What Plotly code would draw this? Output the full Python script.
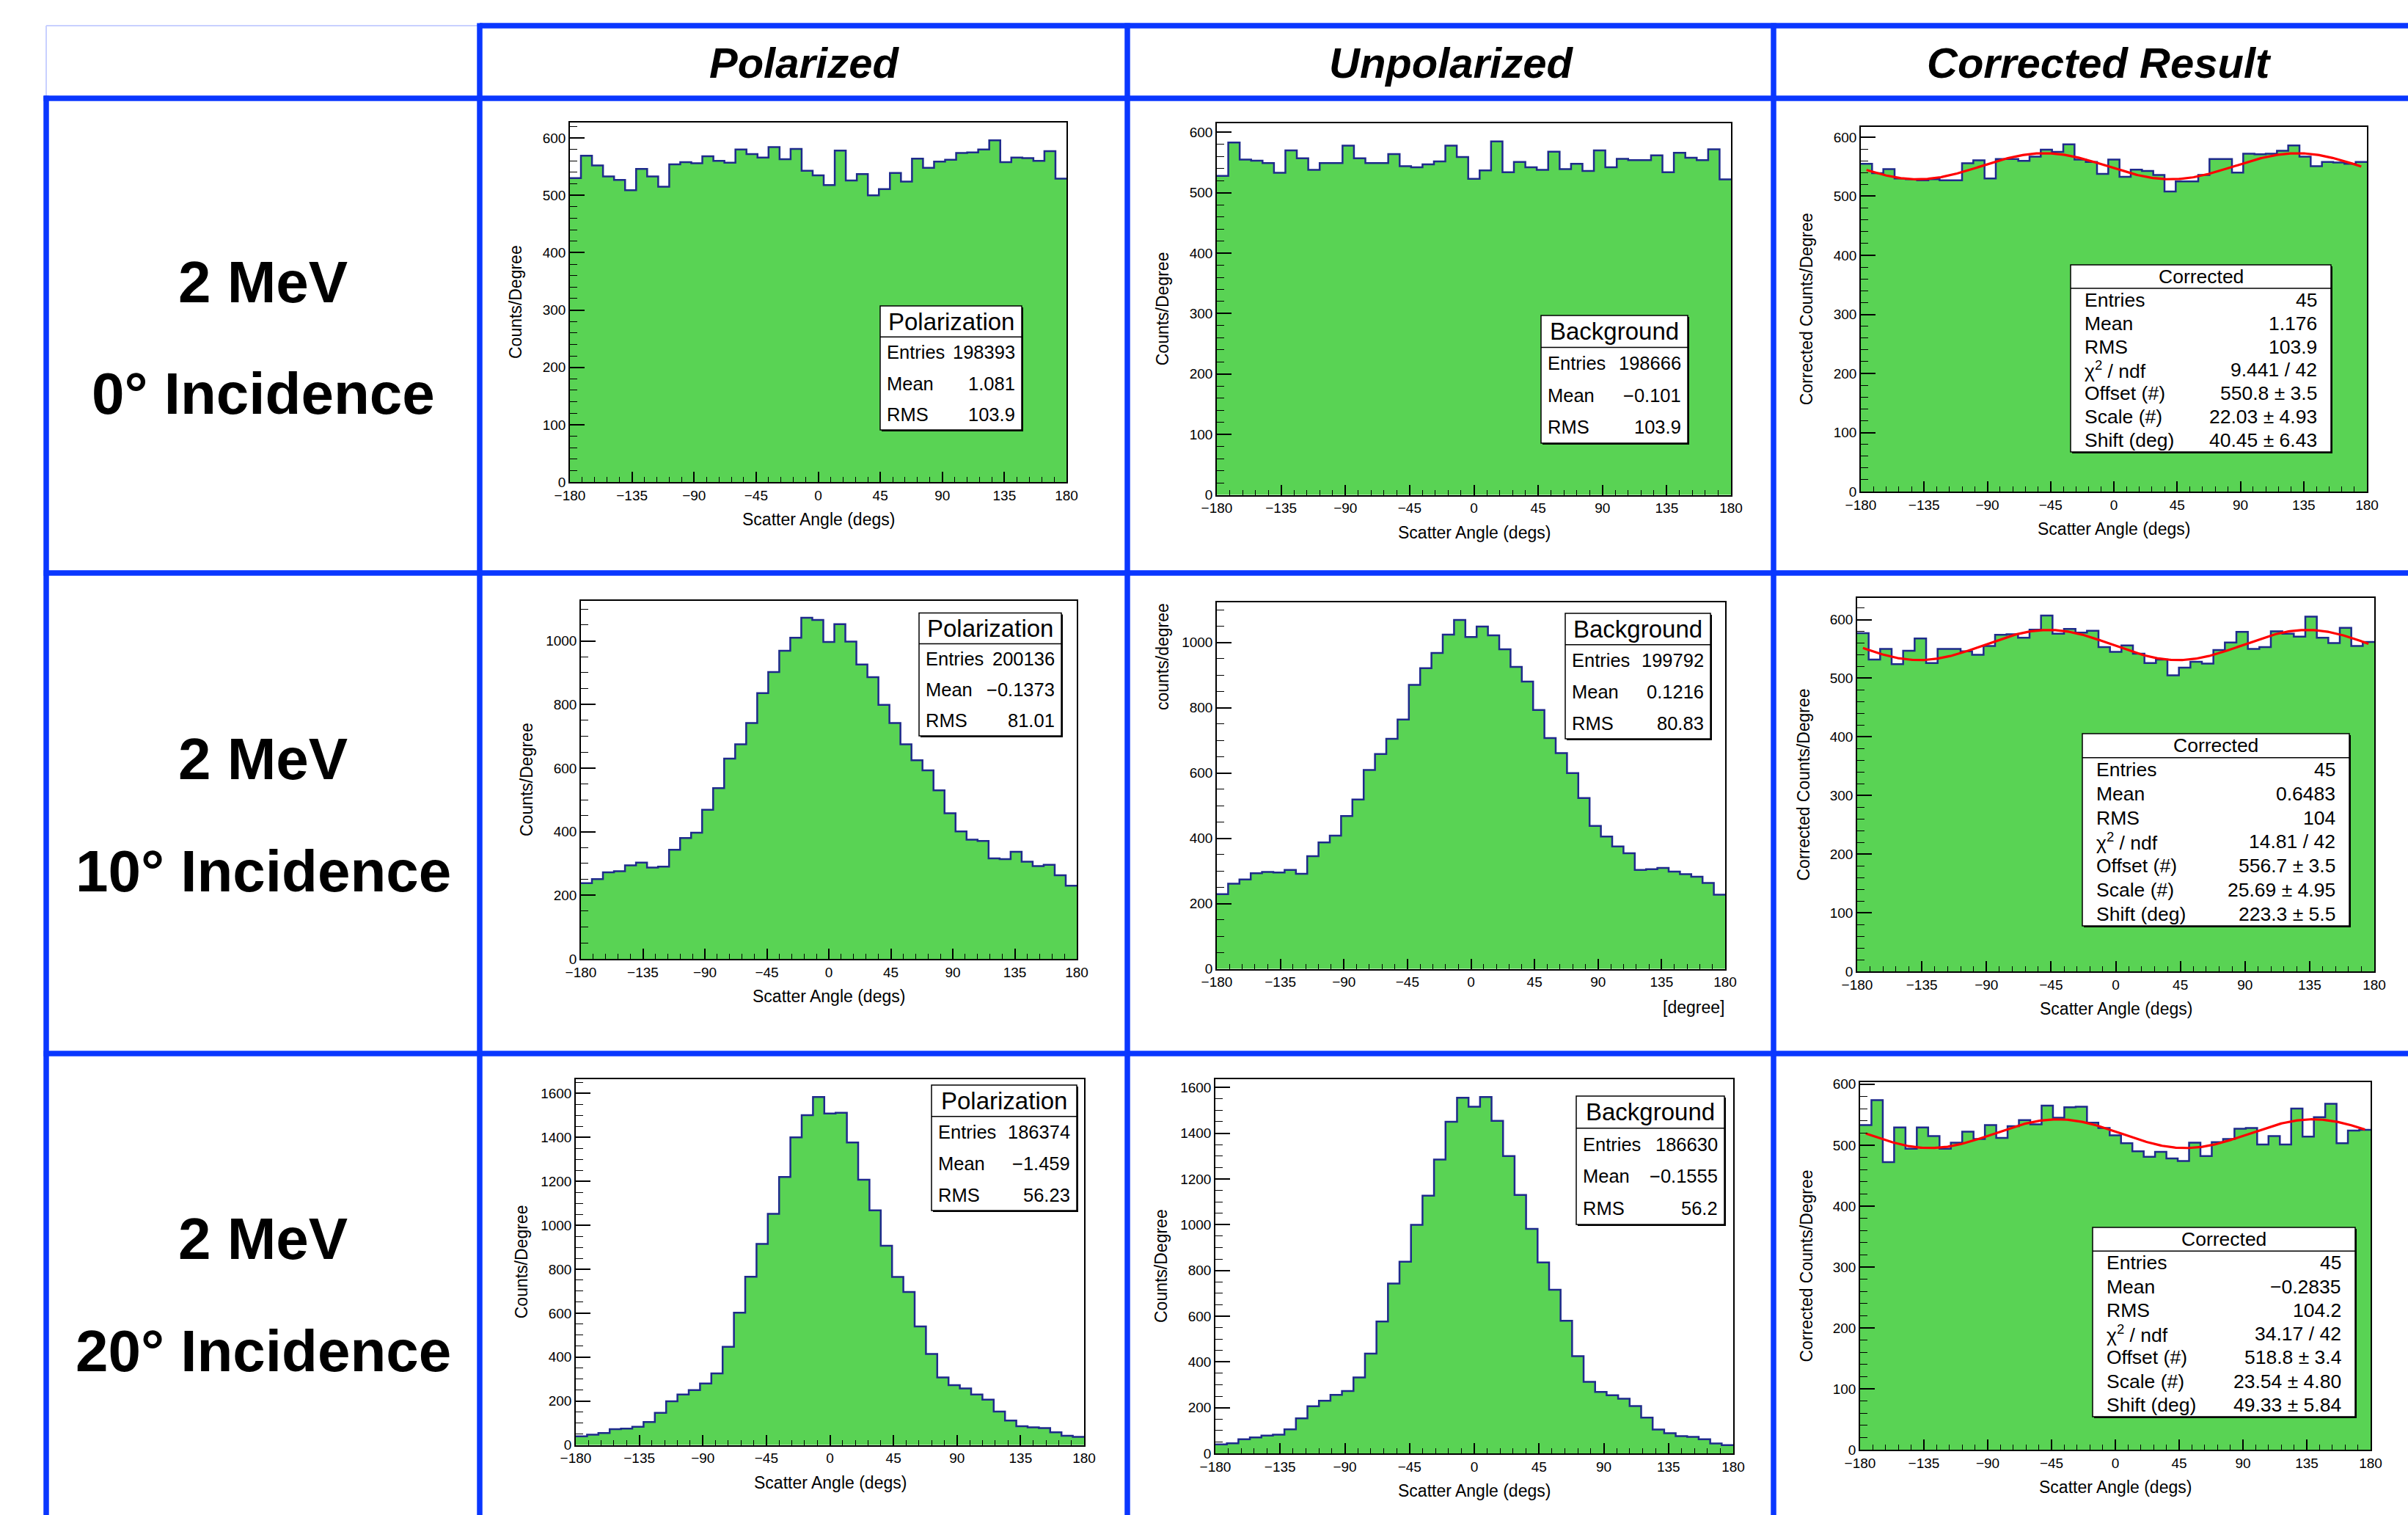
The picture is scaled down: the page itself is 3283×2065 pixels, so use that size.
import numpy as np
import plotly.graph_objects as go

W, H = 3283, 2065

# ---------------- data ----------------
bin_lo = -180
bin_width = 8
n_bins = 45

col_headers = ["Polarized", "Unpolarized", "Corrected Result"]
row_energy = ["2 MeV", "2 MeV", "2 MeV"]
row_incidence = ["0° Incidence", "10° Incidence", "20° Incidence"]

pol_0 = [530, 569, 552, 533, 527, 509, 546, 533, 515, 554, 558, 556, 568, 560, 557, 580, 572, 566, 584, 563,
         581, 543, 535, 518, 578, 526, 537, 500, 511, 539, 524, 564, 548, 559, 562, 574, 575, 580, 596, 558,
         566, 565, 560, 577, 529]
unpol_0 = [528, 583, 555, 553, 549, 533, 570, 557, 538, 549, 549, 578, 557, 549, 549, 564, 544, 542, 547, 552,
           578, 559, 523, 537, 585, 534, 551, 542, 538, 568, 539, 548, 536, 570, 542, 556, 554, 554, 562, 534,
           566, 558, 554, 572, 522]
corr_0 = [555, 539, 546, 530, 529, 527, 529, 527, 527, 556, 561, 530, 563, 563, 560, 567, 579, 575, 588, 562,
          558, 538, 562, 533, 545, 543, 536, 508, 525, 525, 536, 563, 563, 540, 572, 571, 572, 577, 586, 567,
          551, 558, 557, 555, 558]

pol_10 = [238, 251, 272, 276, 294, 303, 287, 290, 343, 380, 397, 469, 537, 630, 675, 742, 836, 902, 969, 1010,
          1073, 1066, 997, 1053, 998, 926, 886, 799, 742, 675, 625, 593, 530, 458, 401, 375, 371, 316, 314, 337,
          306, 292, 296, 263, 230]
unpol_10 = [229, 261, 274, 293, 297, 295, 303, 291, 345, 387, 408, 468, 519, 609, 658, 705, 764, 870, 921, 968,
            1024, 1069, 1017, 1049, 1022, 979, 925, 880, 793, 707, 661, 600, 523, 438, 405, 375, 354, 303, 305, 309,
            298, 290, 282, 263, 227]
corr_10 = [577, 532, 550, 524, 547, 568, 526, 550, 550, 546, 540, 555, 574, 575, 569, 583, 607, 576, 584, 578,
           581, 553, 545, 556, 542, 526, 532, 505, 518, 528, 525, 548, 561, 579, 550, 553, 580, 576, 571, 605,
           569, 560, 586, 555, 562]

pol_20 = [39, 47, 54, 72, 74, 83, 104, 146, 199, 230, 250, 280, 326, 447, 602, 766, 915, 1052, 1220, 1400,
          1501, 1584, 1509, 1512, 1377, 1207, 1068, 907, 765, 696, 539, 414, 307, 272, 257, 230, 206, 152, 111, 85,
          80, 77, 58, 42, 37]
unpol_20 = [39, 44, 62, 70, 78, 82, 105, 153, 206, 230, 256, 273, 332, 436, 577, 743, 838, 999, 1127, 1285,
            1450, 1555, 1516, 1558, 1454, 1300, 1130, 982, 835, 715, 580, 425, 313, 269, 254, 239, 207, 156, 104, 88,
            75, 72, 62, 43, 36]
corr_20 = [533, 574, 472, 529, 494, 529, 515, 494, 504, 522, 510, 533, 512, 531, 541, 534, 565, 545, 562, 563,
           537, 528, 516, 503, 490, 481, 489, 478, 474, 504, 482, 505, 510, 527, 528, 501, 515, 501, 560, 514,
           546, 568, 503, 524, 525]

# stats box contents
stat_titles = [["Polarization", "Background", "Corrected"]] * 3
entries = [["198393", "198666", "45"], ["200136", "199792", "45"], ["186374", "186630", "45"]]
means = [["1.081", "\u22120.101", "1.176"], ["\u22120.1373", "0.1216", "0.6483"], ["\u22121.459", "\u22120.1555", "\u22120.2835"]]
rmss = [["103.9", "103.9", "103.9"], ["81.01", "80.83", "104"], ["56.23", "56.2", "104.2"]]
chi2 = ["9.441 / 42", "14.81 / 42", "34.17 / 42"]
fit_offset = [550.8, 556.7, 518.8]
fit_offset_err = ["3.5", "3.5", "3.4"]
fit_scale = [22.03, 25.69, 23.54]
fit_scale_err = ["4.93", "4.95", "4.80"]
fit_shift = [40.45, 223.3, 49.33]
fit_shift_err = ["6.43", "5.5", "5.84"]

x_ticks = [-180, -135, -90, -45, 0, 45, 90, 135, 180]
ytitles = [["Counts/Degree", "Counts/Degree", "Corrected Counts/Degree"],
           ["Counts/Degree", "counts/degree", "Corrected Counts/Degree"],
           ["Counts/Degree", "Counts/Degree", "Corrected Counts/Degree"]]
xtitles = [["Scatter Angle (degs)"] * 3,
           ["Scatter Angle (degs)", "[degree]", "Scatter Angle (degs)"],
           ["Scatter Angle (degs)"] * 3]

hist_values = [[pol_0, unpol_0, corr_0], [pol_10, unpol_10, corr_10], [pol_20, unpol_20, corr_20]]

# ---------------- layout geometry (pixels) ----------------
frames = [[(777, 1454, 167, 657), (1659, 2360, 168, 674.5), (2537, 3227, 172.5, 670)],
          [(792, 1468, 819, 1307), (1659, 2352, 821, 1320.5), (2532, 3237, 815, 1324)],
          [(785, 1478, 1471, 1969.5), (1657, 2363, 1471, 1981), (2536, 3232, 1475, 1976)]]
ymax = [[627, 615, 618], [1126, 1123, 637], [1665, 1636, 603.4]]
ydt = [[100, 100, 100], [200, 200, 100], [200, 200, 100]]
boxes = [[(1200, 1393, 417, 586), (2101, 2301, 430, 604), (2823, 3178, 361, 616)],
         [(1253, 1447, 835.5, 1003), (2134, 2332, 836, 1007), (2839, 3203, 1000, 1262)],
         [(1270, 1468, 1479, 1650), (2149, 2351, 1494, 1669), (2853, 3211, 1673, 1931)]]

FONT = "Liberation Sans, Arial, Helvetica, sans-serif"
GREEN = "#59d354"
OUTLINE = "#1e2a8c"
TABLE_BLUE = "#0a37ff"

def px(x):
    return x / W

def py(y):
    return 1 - y / H

edges = bin_lo + bin_width * np.arange(n_bins + 1)
centers = edges[:-1] + bin_width / 2

fig = go.Figure()
layout = {}
annotations = []
shapes = []

def ann(x, y, text, size, xanchor="center", yanchor="middle", angle=0, color="black"):
    annotations.append(dict(x=px(x), y=py(y), xref="paper", yref="paper", text=text, showarrow=False,
                            font=dict(family=FONT, size=size, color=color), xanchor=xanchor,
                            yanchor=yanchor, textangle=angle, borderpad=0))

k = 0
for r in range(3):
    for c in range(3):
        k += 1
        xa = "x" if k == 1 else f"x{k}"
        ya = "y" if k == 1 else f"y{k}"
        x0, x1, y0, y1 = frames[r][c]
        vals = hist_values[r][c]
        fig.add_trace(go.Bar(x=centers, y=vals, width=bin_width, marker=dict(color=GREEN, line=dict(width=0)),
                             xaxis=xa, yaxis=ya, hoverinfo="skip"))
        fig.add_trace(go.Scatter(x=edges, y=list(vals) + [vals[-1]], mode="lines", line_shape="hv",
                                 line=dict(color=OUTLINE, width=2.5), xaxis=xa, yaxis=ya, hoverinfo="skip"))
        if c == 2:
            xf = np.linspace(centers[0], centers[-1], 400)
            yf = fit_offset[r] - fit_scale[r] * np.cos(np.radians(2 * (xf - fit_shift[r])))
            fig.add_trace(go.Scatter(x=xf, y=yf, mode="lines", line=dict(color="#ff0000", width=3.2),
                                     xaxis=xa, yaxis=ya, hoverinfo="skip"))
        xkey = "xaxis" if k == 1 else f"xaxis{k}"
        ykey = "yaxis" if k == 1 else f"yaxis{k}"
        layout[xkey] = dict(domain=[px(x0), px(x1)], anchor=ya, range=[-180, 180], tickvals=x_ticks,
                            ticks="inside", ticklen=14, tickwidth=1.5, tickcolor="black",
                            minor=dict(dtick=9, tick0=-180, ticks="inside", ticklen=7, tickwidth=1.2, tickcolor="black"),
                            showline=True, linecolor="black", linewidth=1.5, mirror=True,
                            showgrid=False, zeroline=False, automargin=False,
                            tickfont=dict(family=FONT, size=19, color="black"))
        layout[ykey] = dict(domain=[py(y1), py(y0)], anchor=xa, range=[0, ymax[r][c]], dtick=ydt[r][c], tick0=0,
                            ticks="inside", ticklen=20, tickwidth=1.5, tickcolor="black",
                            minor=dict(dtick=ydt[r][c] / (5 if ydt[r][c] == 100 else 4), ticks="inside", ticklen=10,
                                       tickwidth=1.2, tickcolor="black"),
                            showline=True, linecolor="black", linewidth=1.5, mirror=True,
                            showgrid=False, zeroline=False, automargin=False,
                            tickfont=dict(family=FONT, size=19, color="black"))
        # axis titles
        if xtitles[r][c].startswith("["):
            ann(x1, y1 + 52, xtitles[r][c], 23, xanchor="right")
        else:
            ann((x0 + x1) / 2, y1 + 51, xtitles[r][c], 23)
        if ytitles[r][c].startswith("counts"):
            ann(x0 - 74, y0, ytitles[r][c], 23, yanchor="top", angle=-90)
        else:
            ann(x0 - 74, (y0 + y1) / 2, ytitles[r][c], 23, angle=-90)

        # stats box
        bx0, bx1, by0, by1 = boxes[r][c]
        nrows = 8 if c == 2 else 4
        rh = (by1 - by0) / nrows
        shapes.append(dict(type="rect", xref="paper", yref="paper", x0=px(bx0 + 2), x1=px(bx1 + 2),
                           y0=py(by1 + 2), y1=py(by0 + 2), fillcolor="black", line=dict(width=0), layer="above"))
        shapes.append(dict(type="rect", xref="paper", yref="paper", x0=px(bx0), x1=px(bx1), y0=py(by1), y1=py(by0),
                           fillcolor="white", line=dict(color="black", width=1.5), layer="above"))
        shapes.append(dict(type="line", xref="paper", yref="paper", x0=px(bx0), x1=px(bx1),
                           y0=py(by0 + rh), y1=py(by0 + rh), line=dict(color="black", width=1.5), layer="above"))
        if c < 2:
            ann((bx0 + bx1) / 2, by0 + rh / 2, stat_titles[r][c], 33)
            labels = ["Entries", "Mean", "RMS"]
            values = [entries[r][c], means[r][c], rmss[r][c]]
            for i in range(3):
                yy = by0 + rh * (i + 1.5)
                ann(bx0 + 8, yy, labels[i], 25.5, xanchor="left")
                ann(bx1 - 8, yy, values[i], 25.5, xanchor="right")
        else:
            ann((bx0 + bx1) / 2, by0 + rh / 2, stat_titles[r][c], 26.5)
            labels = ["Entries", "Mean", "RMS", "\u03c7<sup>2</sup> / ndf", "Offset (#)", "Scale (#)", "Shift (deg)"]
            values = [entries[r][c], means[r][c], rmss[r][c], chi2[r],
                      f"{fit_offset[r]} \u00b1 {fit_offset_err[r]}",
                      f"{fit_scale[r]:.2f} \u00b1 {fit_scale_err[r]}",
                      f"{fit_shift[r]} \u00b1 {fit_shift_err[r]}"]
            for i in range(7):
                yy = by0 + rh * (i + 1.5)
                ann(bx0 + 18, yy, labels[i], 26.5, xanchor="left")
                ann(bx1 - 18, yy, values[i], 26.5, xanchor="right")

# ---------------- table ----------------
LW = 7.5
vlines = [63, 654, 1537, 2418]
for i, xv in enumerate(vlines):
    top = 134 if i == 0 else 35
    shapes.append(dict(type="line", xref="paper", yref="paper", x0=px(xv), x1=px(xv), y0=py(top - 3.5), y1=py(H + 10),
                       line=dict(color=TABLE_BLUE, width=LW), layer="above"))
shapes.append(dict(type="line", xref="paper", yref="paper", x0=px(654), x1=px(W + 10), y0=py(35), y1=py(35),
                   line=dict(color=TABLE_BLUE, width=LW), layer="above"))
for yv in [134, 781, 1436]:
    shapes.append(dict(type="line", xref="paper", yref="paper", x0=px(63 - 3.5), x1=px(W + 10), y0=py(yv), y1=py(yv),
                       line=dict(color=TABLE_BLUE, width=LW), layer="above"))
# faint border of the empty corner cell
shapes.append(dict(type="line", xref="paper", yref="paper", x0=px(63), x1=px(654), y0=py(35), y1=py(35),
                   line=dict(color="#c8d0ff", width=2), layer="below"))
shapes.append(dict(type="line", xref="paper", yref="paper", x0=px(63), x1=px(63), y0=py(35), y1=py(134),
                   line=dict(color="#c8d0ff", width=2), layer="below"))

col_centers = [1096, 1978, 2862]
for c in range(3):
    ann(col_centers[c], 86, f"<b><i>{col_headers[c]}</i></b>", 58)
row_line1 = [385, 1034, 1688]
row_line2 = [536, 1187, 1841]
for r in range(3):
    ann(358.5, row_line1[r], f"<b>{row_energy[r]}</b>", 80)
    ann(358.5, row_line2[r], f"<b>{row_incidence[r]}</b>", 80)

fig.update_layout(width=W, height=H, margin=dict(l=0, r=0, t=0, b=0, pad=0, autoexpand=False), showlegend=False,
                  paper_bgcolor="white", plot_bgcolor="white", bargap=0, barmode="overlay",
                  annotations=annotations, shapes=shapes, font=dict(family=FONT), **layout)

fig.write_html("out.html", config={"displayModeBar": False},
               post_script="document.body.style.margin='0';document.body.style.overflow='hidden';")
